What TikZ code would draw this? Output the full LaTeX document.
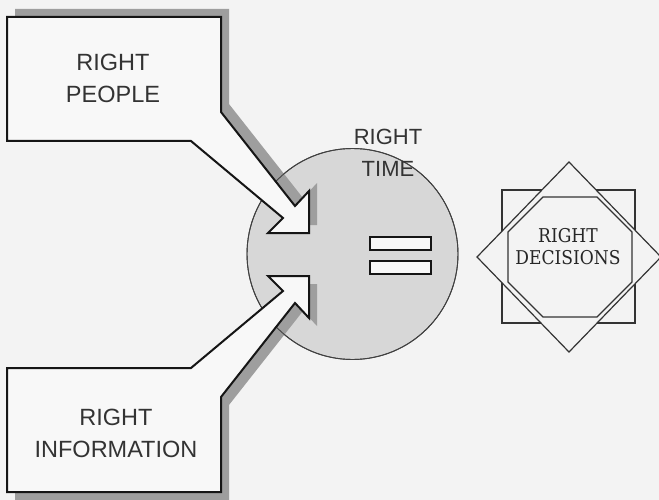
\documentclass[tikz,border=0pt]{standalone}
\usepackage{fontspec}
\setmainfont{Liberation Sans}
\newfontfamily\slabfont[FakeStretch=0.9]{DejaVu Serif}
\definecolor{paper}{HTML}{F3F3F3}
\definecolor{boxfill}{HTML}{F8F8F8}
\definecolor{discfill}{HTML}{D7D7D7}
\definecolor{shade}{HTML}{9E9E9E}
\definecolor{ink}{HTML}{151515}
\tikzset{
  callout/.style={draw=ink, line width=2pt, fill=boxfill, line join=miter},
  calloutshadow/.style={fill=shade, draw=none},
  calltext/.style={font=\fontsize{23.5}{32}\selectfont, text=black!80, align=center, inner sep=0pt},
  timetext/.style={font=\fontsize{22}{31.5}\selectfont, text=black!80, align=center, inner sep=0pt},
  disc/.style={fill=discfill},
  discrim/.style={draw=black!75, line width=0.9pt},
  eqbar/.style={draw=ink, line width=1.5pt, fill=boxfill},
  badge/.style={draw=black!80, line width=1.2pt, fill=paper},
  badgetext/.style={font=\slabfont\fontsize{19}{22}\selectfont, text=black!85, align=center, inner sep=0pt}
}
\begin{document}
\begin{tikzpicture}[x=1pt, y=-1pt]
  % page and background
  \useasboundingbox (0,0) rectangle (659,500);
  \fill[paper] (0,0) rectangle (659,500);

  % the disc in the middle
  \coordinate (discc) at (352.5,254);
  \fill[disc] (discc) circle (105.5);
  \draw[discrim] (discc) circle (105.5);

  % drop shadows of the two callouts
  \begin{scope}[shift={(8,-8)}]
    \fill[calloutshadow] (7,17) -- (221,17) -- (221,112) -- (295,206) -- (309,191)
      -- (309,233) -- (268,233) -- (283,218) -- (191,141) -- (7,141) -- cycle;
  \end{scope}
  \begin{scope}[shift={(8,8)}]
    \fill[calloutshadow] (7,492) -- (221,492) -- (221,397) -- (295,303) -- (309,318)
      -- (309,276) -- (268,276) -- (283,291) -- (191,368) -- (7,368) -- cycle;
  \end{scope}
  % disc rim stays visible across the shadows
  \draw[discrim] (discc) circle (105.5);

  % upper callout
  \draw[callout] (7,17) -- (221,17) -- (221,112) -- (295,206) -- (309,191)
    -- (309,233) -- (268,233) -- (283,218) -- (191,141) -- (7,141) -- cycle;
  % lower callout
  \draw[callout] (7,492) -- (221,492) -- (221,397) -- (295,303) -- (309,318)
    -- (309,276) -- (268,276) -- (283,291) -- (191,368) -- (7,368) -- cycle;

  \node[calltext] (people) at (113,78.25) {RIGHT\\PEOPLE};
  \node[calltext] (info) at (116,433.5) {RIGHT\\INFORMATION};
  \node[timetext] (time) at (388,153) {RIGHT\\TIME};

  % equals sign
  \draw[eqbar] (370,237) rectangle (431,250);
  \draw[eqbar] (370,261) rectangle (431,274);

  % decisions badge: square, diamond, inner octagon
  \draw[badge] (502,190) rectangle (635,323);
  \draw[badge] (569,162) -- (661,257) -- (569,352) -- (477,257) -- cycle;
  \draw[badge] (543,197) -- (597,197) -- (632,232) -- (632,282) -- (597,317)
    -- (543,317) -- (508,282) -- (508,232) -- cycle;
  \node[badgetext] (decide) at (568,246.5) {RIGHT\\DECISIONS};
\end{tikzpicture}
\end{document}
